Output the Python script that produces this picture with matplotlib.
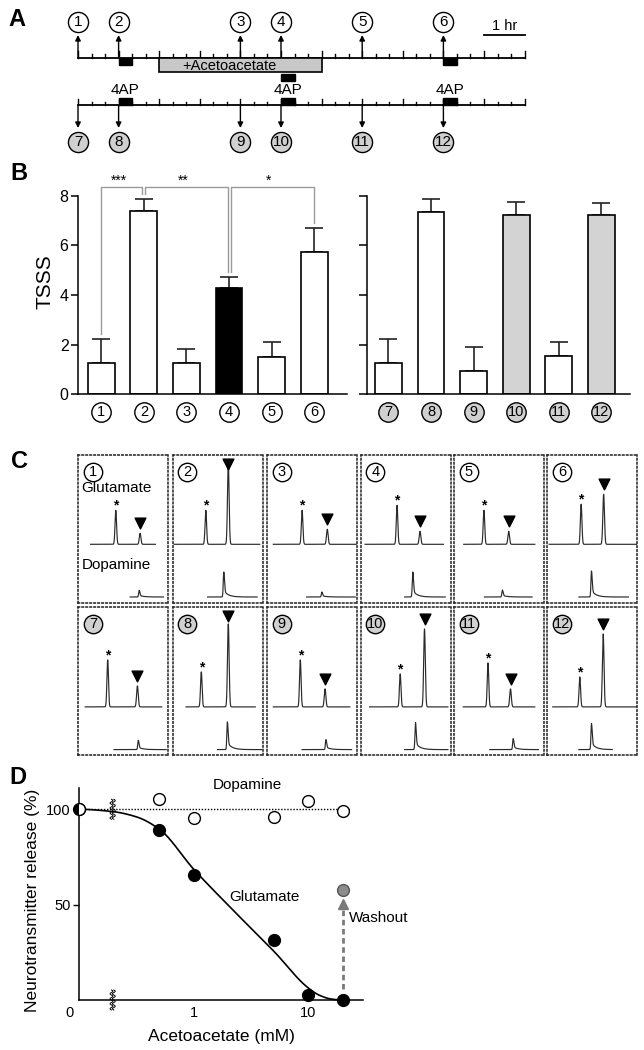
import numpy as np
import matplotlib
matplotlib.use("Agg")
import matplotlib.pyplot as plt
from matplotlib.patches import Rectangle
from matplotlib import font_manager

plt.rcParams['font.family'] = ['Liberation Sans', 'DejaVu Sans']
plt.rcParams['axes.linewidth'] = 1.1
_names = {f.name for f in font_manager.fontManager.ttflist}
NARROW = 'Liberation Sans Narrow' if 'Liberation Sans Narrow' in _names else 'Liberation Sans'

# ---------------- data ----------------
# Panel A: experimental protocol (hours)
session_hours = 11
top_sample_times = [0, 1, 4, 5, 7, 9]
top_sample_labels = ['1', '2', '3', '4', '5', '6']
bottom_sample_times = [0, 1, 4, 5, 7, 9]
bottom_sample_labels = ['7', '8', '9', '10', '11', '12']
ap4_start_times = [1, 5, 9]
ap4_duration = 1 / 3
acetoacetate_period = [2, 6]

# Panel B: TSSS
left_labels = ['1', '2', '3', '4', '5', '6']
tsss_left = [1.27, 7.38, 1.25, 4.27, 1.49, 5.74]
sem_left = [0.94, 0.47, 0.57, 0.47, 0.63, 0.97]
right_labels = ['7', '8', '9', '10', '11', '12']
tsss_right = [1.27, 7.35, 0.95, 7.23, 1.54, 7.22]
sem_right = [0.94, 0.50, 0.94, 0.50, 0.58, 0.50]
sig_pairs = [(0, 1, '***'), (1, 3, '**'), (3, 5, '*')]

# Panel C: chromatogram peaks (12 samples)
trace_labels = ['1', '2', '3', '4', '5', '6', '7', '8', '9', '10', '11', '12']
glu_start = [0.14, 0.02, 0.07, 0.05, 0.11, 0.02, 0.08, 0.15, 0.07, 0.10, 0.105, 0.06]
glu_end = [0.86, 0.97, 0.99, 0.92, 0.90, 0.99, 0.93, 0.92, 0.92, 0.97, 0.90, 0.99]
star_pos = [0.42, 0.37, 0.39, 0.405, 0.335, 0.375, 0.33, 0.32, 0.37, 0.44, 0.38, 0.36]
star_height = [34, 34, 34, 39, 34, 40, 47, 35, 47, 33, 44, 30]
glu_pos = [0.69, 0.62, 0.67, 0.66, 0.61, 0.625, 0.66, 0.62, 0.645, 0.71, 0.63, 0.62]
glu_height = [11, 80, 15, 13, 13, 50, 21, 83, 18, 78, 18, 73]
dopa_start = [0.58, 0.39, 0.44, 0.49, 0.34, 0.35, 0.40, 0.50, 0.39, 0.49, 0.40, 0.35]
dopa_end = [0.95, 0.94, 0.98, 0.94, 0.87, 0.90, 0.98, 0.99, 0.94, 0.97, 0.94, 0.72]
dopa_pos = [0.68, 0.57, 0.61, 0.58, 0.54, 0.49, 0.67, 0.61, 0.655, 0.61, 0.66, 0.49]
dopa_height = [6.7, 25, 5, 25, 7, 26, 9.3, 27.7, 10, 27, 11, 26]

# Panel D: dose response
conc_mM = [0, 0.5, 1, 5, 10, 20]
dopamine_pct = [100, 105.2, 95.6, 96.1, 104.2, 99.1]
glutamate_pct = [100, 89.1, 65.5, 31.5, 2.6, 0]
washout_conc = 20
washout_pct = 57.7
fit_log_conc = [-1.0, -0.71, -0.5, -0.3, 0.0, 0.32, 0.7, 1.0, 1.1, 1.2, 1.3]
fit_pct = [100, 98.8, 96.0, 89.5, 68.5, 48.5, 25.5, 6.3, 2.4, 0.5, 0]

# ---------------- figure ----------------
W, H = 644, 1050
fig = plt.figure(figsize=(W / 100, H / 100), dpi=100)


def rect(x0, y0, x1, y1):
    return [x0 / W, 1 - y1 / H, (x1 - x0) / W, (y1 - y0) / H]


def circ_label(ax, x, y, txt, face, s=150, fs=9.5, **kw):
    ax.scatter([x], [y], s=s, facecolor=face, edgecolor='k', linewidth=1.0,
               zorder=5, clip_on=False, **kw)
    fam = [NARROW, 'DejaVu Sans'] if len(txt) > 1 else ['Liberation Sans', 'DejaVu Sans']
    ax.text(x, y, txt, ha='center', va='center', fontsize=fs, zorder=6,
            family=fam, clip_on=False, **kw)


def letter(x, y, t):
    fig.text(x / W, 1 - y / H, t, fontsize=17, fontweight='bold', ha='center', va='center')


# ---------- Panel A ----------
axA = fig.add_axes(rect(0, 0, 644, 160))
px_hr, x0 = 40.6, 78
axA.set_xlim(-x0 / px_hr, (W - x0) / px_hr)
axA.set_ylim(160, 0)
axA.axis('off')
TOP_Y, BOT_Y = 57.7, 105.3
ticks = np.arange(0, session_hours + 1e-6, 1 / 3)
for ly in (TOP_Y, BOT_Y):
    axA.plot([0, session_hours], [ly, ly], color='k', lw=1.3)
    for t in ticks:
        major = abs(t - round(t)) < 1e-6
        axA.plot([t, t], [ly, ly - (6.5 if major else 3.8)], color='k', lw=1.0)
for t, lab in zip(top_sample_times, top_sample_labels):
    axA.annotate('', xy=(t, 35), xytext=(t, TOP_Y),
                 arrowprops=dict(arrowstyle='-|>', color='k', lw=1.0, mutation_scale=8,
                                 shrinkA=0, shrinkB=0))
    circ_label(axA, t, 22, lab, 'white', s=210, fs=11)
for t, lab in zip(bottom_sample_times, bottom_sample_labels):
    axA.annotate('', xy=(t, 128), xytext=(t, BOT_Y),
                 arrowprops=dict(arrowstyle='-|>', color='k', lw=1.0, mutation_scale=8,
                                 shrinkA=0, shrinkB=0))
    circ_label(axA, t, 142, lab, '#d0d0d0', s=210, fs=11)
a0, a1 = acetoacetate_period
axA.add_patch(Rectangle((a0, TOP_Y), a1 - a0, 14.6, facecolor='#c8c8c8', edgecolor='k', lw=1.2, zorder=3))
axA.text(a0 + 0.43 * (a1 - a0), TOP_Y + 8, '+Acetoacetate', ha='center', va='center', fontsize=10.5, zorder=4)
for t in ap4_start_times:
    y_top = 74 if a0 <= t < a1 else TOP_Y
    axA.add_patch(Rectangle((t, y_top), ap4_duration, 7.3, facecolor='k', edgecolor='k', zorder=4))
    axA.add_patch(Rectangle((t, BOT_Y - 7.6), ap4_duration, 7.6, facecolor='k', edgecolor='k', zorder=4))
    axA.text(t + ap4_duration / 2, 90.5, '4AP', ha='center', va='center', fontsize=11)
axA.plot([10, 11], [35, 35], color='k', lw=1.3)
axA.text(10.5, 26.5, '1 hr', ha='center', va='center', fontsize=10.5)

# ---------- Panel B ----------
def bar_panel(box, xl, vals, sems, labels, fills, circ_face, show_labels):
    ax = fig.add_axes(rect(*box))
    x = np.arange(len(vals))
    ax.bar(x, vals, width=0.63, color=fills, edgecolor='k', linewidth=1.2, zorder=2)
    ax.errorbar(x, vals, yerr=[np.zeros(len(vals)), sems], fmt='none', ecolor='#222',
                elinewidth=1.2, capsize=6.5, capthick=1.2, zorder=1)
    ax.set_xlim(*xl)
    ax.set_ylim(0, 8)
    ax.set_yticks([0, 2, 4, 6, 8])
    ax.tick_params(axis='y', length=5 if show_labels else 6, width=1.1, labelsize=11.5, pad=2,
                   labelleft=show_labels)
    ax.set_xticks([])
    ax.spines['top'].set_visible(False)
    ax.spines['right'].set_visible(False)
    ax.patch.set_alpha(0)
    for xi, lab in zip(x, labels):
        circ_label(ax, xi, -0.71, lab, circ_face, s=195, fs=10.5)
    return ax


axB1 = bar_panel((78.3, 195.7, 347, 394.3), (-0.54, 5.77), tsss_left, sem_left, left_labels,
                 ['white', 'white', 'white', 'black', 'white', 'white'], 'white', True)
axB2 = bar_panel((366.7, 195.7, 630.4, 394.3), (-0.51, 5.68), tsss_right, sem_right, right_labels,
                 ['white', 'white', 'white', '#d3d3d3', 'white', '#d3d3d3'], '#d0d0d0', False)
fig.text(45 / W, 1 - 281.7 / H, 'TSSS', rotation=90, fontsize=15, ha='center', va='center')

err_top = np.array(tsss_left) + np.array(sem_left)
BR_Y = 8.36
for i, j, st in sig_pairs:
    xi = i + (0.035 if i > 0 else 0)
    xj = j - (0.035 if j < len(tsss_left) - 1 else 0)
    axB1.plot([xi, xi, xj, xj], [err_top[i] + 0.2, BR_Y, BR_Y, err_top[j] + 0.2],
              color='#9a9a9a', lw=1.0, clip_on=False, zorder=0)
    axB1.text((xi + xj) / 2 - 0.08, 8.62, st, ha='center', va='center', fontsize=10, clip_on=False)

# ---------- Panel C ----------
col_left = [78, 172.5, 267, 360.6, 453.8, 547.4]
row_top = [455, 607.3]
BOX_W, BOX_H = 90, 148
glu_base = [58.7, 48.4]
dopa_base = [6.0, 5.7]
for k in range(12):
    r, c = divmod(k, 6)
    ax = fig.add_axes(rect(col_left[c], row_top[r], col_left[c] + BOX_W, row_top[r] + BOX_H))
    ax.set_xlim(0, 1)
    ax.set_ylim(0, BOX_H)
    ax.set_xticks([])
    ax.set_yticks([])
    for s in ax.spines.values():
        s.set_linestyle((0, (1.0, 1.6)))
        s.set_linewidth(1.1)
        s.set_color('#222222')
    # glutamate chromatogram
    xg = np.linspace(glu_start[k], glu_end[k], 900)
    yg = (glu_base[r]
          + star_height[k] * np.exp(-0.5 * ((xg - star_pos[k]) / 0.0085) ** 2)
          + glu_height[k] * np.exp(-0.5 * ((xg - glu_pos[k]) / 0.009) ** 2))
    ax.plot(xg, yg, color='#2a2a2a', lw=0.85)
    st_top = glu_base[r] + star_height[k]
    ax.text(star_pos[k], st_top + 4.5, '*', ha='center', va='center', fontsize=10, fontweight='bold')
    g_top = glu_base[r] + glu_height[k]
    ax.scatter([glu_pos[k]], [min(g_top + 10, BOX_H - 9)], marker='v', s=60, color='k', zorder=4)
    # dopamine chromatogram
    xd = np.linspace(dopa_start[k], dopa_end[k], 900)
    dx = xd - dopa_pos[k]
    shape = np.where(dx < 0, np.exp(-0.5 * (dx / 0.006) ** 2),
                     0.75 * np.exp(-0.5 * (dx / 0.008) ** 2) + 0.25 * np.exp(-dx / 0.05))
    ax.plot(xd, dopa_base[r] + dopa_height[k] * shape, color='#2a2a2a', lw=0.85)
    circ_label(ax, 0.165, BOX_H - 16.7, trace_labels[k], 'white' if r == 0 else '#d0d0d0',
               s=175, fs=10.5)
    if k == 0:
        ax.text(0.04, 114.7, 'Glutamate', ha='left', va='center', fontsize=11)
        ax.text(0.04, 38, 'Dopamine', ha='left', va='center', fontsize=11)

# ---------- Panel D ----------
axD = fig.add_axes(rect(79.3, 788.3, 363.5, 1000))
axD.set_xscale('log')
axD.set_xlim(0.1, 10 ** 1.482)
axD.set_ylim(0, 111)
axD.spines['top'].set_visible(False)
axD.spines['right'].set_visible(False)
axD.patch.set_alpha(0)
axD.set_yticks([50, 100])
axD.set_yticklabels(['50', '100'])
axD.tick_params(axis='y', length=4.5, width=1.0, labelsize=10.5, pad=1.5)
axD.set_xticks([1, 10])
axD.set_xticklabels(['1', '10'])
axD.xaxis.set_minor_locator(matplotlib.ticker.NullLocator())
axD.tick_params(axis='x', length=0, labelsize=10.5, pad=4)

plot_conc = [c if c > 0 else 0.1 for c in conc_mM]

# fitted curve: monotone cubic through the fit control points (log space)
xk = np.array(fit_log_conc, float)
yk = np.array(fit_pct, float)
hk = np.diff(xk)
dk = np.diff(yk) / hk
mk = np.zeros_like(yk)
for i in range(1, len(xk) - 1):
    if dk[i - 1] * dk[i] > 0:
        w1 = 2 * hk[i] + hk[i - 1]
        w2 = hk[i] + 2 * hk[i - 1]
        mk[i] = (w1 + w2) / (w1 / dk[i - 1] + w2 / dk[i])
xs, ys = [], []
for i in range(len(xk) - 1):
    t = np.linspace(0, 1, 60)
    h00 = 2 * t ** 3 - 3 * t ** 2 + 1
    h10 = t ** 3 - 2 * t ** 2 + t
    h01 = -2 * t ** 3 + 3 * t ** 2
    h11 = t ** 3 - t ** 2
    xs.append(xk[i] + t * hk[i])
    ys.append(h00 * yk[i] + h10 * hk[i] * mk[i] + h01 * yk[i + 1] + h11 * hk[i] * mk[i + 1])
axD.plot(10 ** np.concatenate(xs), np.concatenate(ys), color='k', lw=1.2, clip_on=False)

axD.plot([plot_conc[0], 23], [dopamine_pct[0], dopamine_pct[0]], ls=(0, (1, 1.2)), color='k', lw=1.0)

axD.plot(plot_conc, glutamate_pct, 'o', ms=8.5, mfc='k', mec='k', clip_on=False, zorder=4)
axD.plot(plot_conc[1:], dopamine_pct[1:], 'o', ms=8.5, mfc='white', mec='k', mew=1.0,
         clip_on=False, zorder=4)
axD.plot(plot_conc[:1], dopamine_pct[:1], 'o', ms=8.5, mfc='white', mec='k', mew=1.0,
         clip_on=True, zorder=5)
axD.plot([washout_conc], [washout_pct], 'o', ms=8.5, mfc='#8c8c8c', mec='#555555', mew=1.0,
         clip_on=False, zorder=4)
axD.plot([washout_conc, washout_conc], [glutamate_pct[-1] + 6, washout_pct - 10],
         ls=(0, (2, 1.3)), color='#7a7a7a', lw=2.0)
axD.plot([washout_conc], [washout_pct - 7.5], marker='^', ms=7, color='#7a7a7a', zorder=4)

axD.text(2.91, 112.7, 'Dopamine', ha='center', va='center', fontsize=11, clip_on=False)
axD.text(4.14, 54.2, 'Glutamate', ha='center', va='center', fontsize=11)
axD.text(22.7, 42.8, 'Washout', ha='left', va='center', fontsize=11)
axD.set_xlabel('Acetoacetate (mM)', fontsize=12.5, labelpad=7)
fig.text(33 / W, 1 - 900 / H, 'Neurotransmitter release (%)', rotation=90,
         fontsize=12.5, ha='center', va='center')
fig.text(69.4 / W, 1 - 1013 / H, '0', fontsize=10.5, ha='center', va='center')

# axis-break squiggles
axO = fig.add_axes([0, 0, 1, 1], zorder=20)
axO.set_xlim(0, W)
axO.set_ylim(H, 0)
axO.axis('off')
brk_x = 79.3 + (np.log10(0.195) + 1) * 115
yy = np.linspace(-10, 10, 80)
for yc in (809.3, 1000):
    for off in (-1.2, 1.2):
        axO.plot(brk_x + off + 1.4 * np.sin(2 * np.pi * yy / 5), yc + yy, color='k', lw=0.7)

letter(17, 20, 'A')
letter(18.5, 173.7, 'B')
letter(19.5, 461, 'C')
letter(17.5, 777, 'D')

fig.savefig('out.png', dpi=100)
